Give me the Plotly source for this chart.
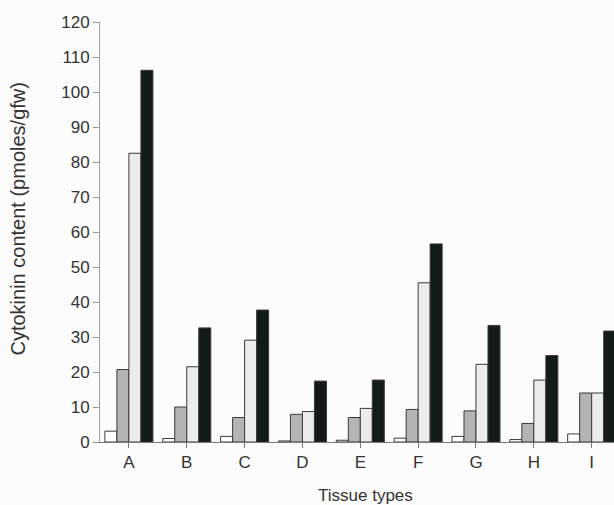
import plotly.graph_objects as go

categories = ["A", "B", "C", "D", "E", "F", "G", "H", "I"]
series1 = [3.1, 1.0, 1.6, 0.3, 0.5, 1.1, 1.6, 0.7, 2.3]
series2 = [20.7, 10.0, 7.0, 7.9, 7.0, 9.3, 8.9, 5.3, 14.0]
series3 = [82.5, 21.5, 29.1, 8.7, 9.6, 45.5, 22.2, 17.7, 14.0]
series4 = [106.2, 32.6, 37.7, 17.4, 17.7, 56.6, 33.3, 24.7, 31.7]
y_ticks = list(range(0, 121, 10))

fills = ["#ffffff", "#b4b4b4", "#ececec", "#121b18"]
names = ["Series 1", "Series 2", "Series 3", "Series 4"]
data = [series1, series2, series3, series4]

fig = go.Figure()
for nm, vals, col in zip(names, data, fills):
    fig.add_trace(go.Bar(
        x=categories, y=vals, name=nm,
        marker=dict(color=col, line=dict(color="#3a3a3a", width=1)),
    ))

W, H = 614, 505
ml, mt, mb = 100.4, 22.3, 63.3
pw = W - ml
ph = H - mt - mb
band = 57.8
x_end = -0.5 + pw / band

fig.update_layout(
    width=W, height=H,
    margin=dict(l=ml, r=0, t=mt, b=mb, pad=0),
    paper_bgcolor="#fcfcfc", plot_bgcolor="#fcfcfc",
    barmode="group", bargap=0.17, bargroupgap=0,
    showlegend=False,
    font=dict(family="Liberation Sans, Arial, sans-serif", color="#333333", size=17),
    xaxis=dict(
        type="category", range=[-0.5, x_end],
        showline=True, linecolor="#777777", linewidth=1,
        ticks="outside", ticklen=5, tickcolor="#777777",
        showgrid=False, zeroline=False,
        tickfont=dict(size=17, color="#333333"),
    ),
    yaxis=dict(
        range=[0, 120], tickvals=y_ticks,
        showline=True, linecolor="#999999", linewidth=1,
        ticks="outside", ticklen=6, tickcolor="#999999",
        showgrid=False, zeroline=False,
        tickfont=dict(size=17, color="#333333"),
    ),
    annotations=[
        dict(text="Cytokinin content (pmoles/gfw)", xref="paper", yref="paper",
             x=(18 - ml) / pw, y=(H - mb - 219) / ph, xanchor="center", yanchor="middle",
             textangle=-90, showarrow=False, font=dict(size=20, color="#333333")),
        dict(text="Tissue types", xref="paper", yref="paper",
             x=(366 - ml) / pw, y=(H - mb - 495) / ph, xanchor="center", yanchor="middle",
             showarrow=False, font=dict(size=17, color="#333333")),
    ],
)

fig.write_html(
    "out.html",
    config={"displayModeBar": False},
    post_script="document.body.style.margin='0';document.body.style.overflow='hidden';",
)
